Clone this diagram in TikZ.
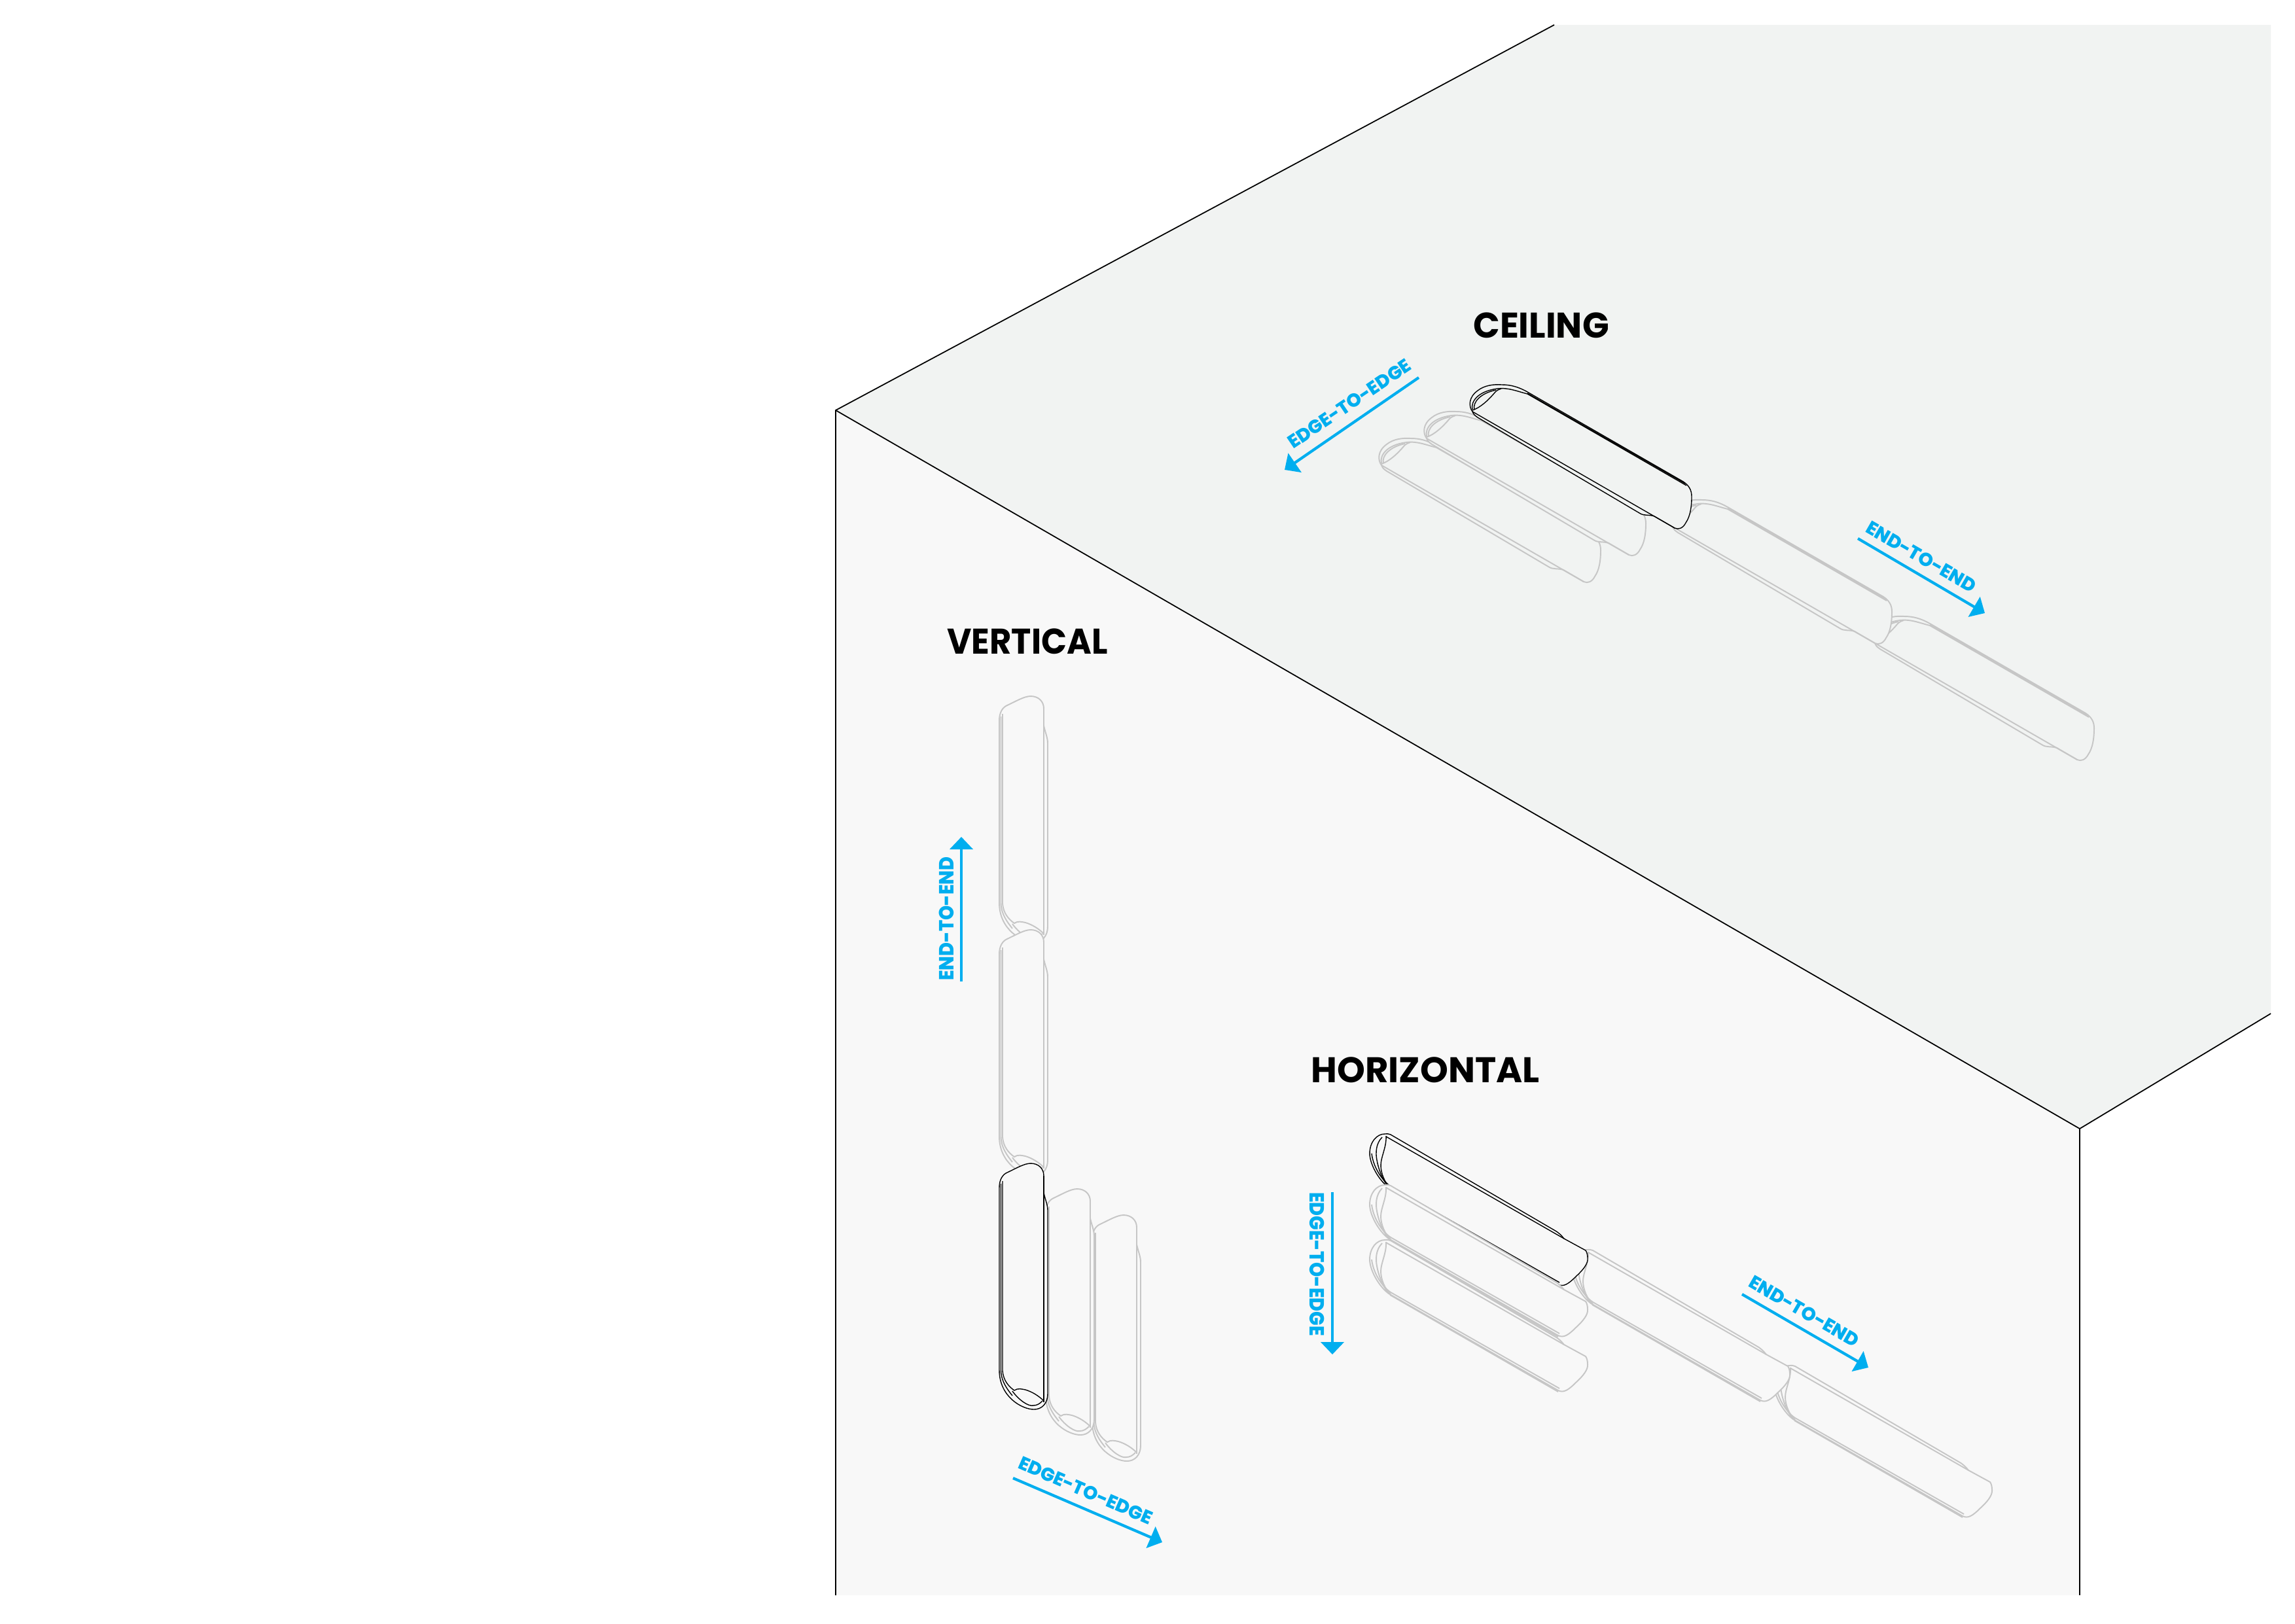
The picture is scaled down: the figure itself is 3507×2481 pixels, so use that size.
\documentclass[tikz,border=0pt]{standalone}
\usepackage{fontspec}
\setmainfont{Poppins}
\newfontfamily\tagfont{Poppins ExtraBold}
\usepackage{xcolor}
\usetikzlibrary{arrows.meta}
\definecolor{ink}{HTML}{000000}
\definecolor{cyanb}{HTML}{00AEEF}
\definecolor{ceilc}{HTML}{F1F3F2}
\definecolor{wallc}{HTML}{F8F8F8}
\definecolor{ghostc}{HTML}{C6C6C6}

\begin{document}
\begin{tikzpicture}[
  x=0.01cm,y=-0.01cm,
  title/.style={font=\fontsize{15.5}{18}\selectfont\bfseries,text=ink,inner sep=0pt},
  tag/.style={font=\tagfont\fontsize{8.1}{10}\selectfont,text=cyanb,inner sep=0pt},
  roomline/.style={draw=ink,line width=0.5pt},
  flow/.style={-{Triangle[length=0.19cm,width=0.35cm]},line width=0.042cm,cyanb},
  dark/.style={draw=ink,line width=0.4pt,line join=round},
  ghost/.style={draw=ghostc,line width=0.55pt,line join=round},
  % lamp lying along the ceiling
  pics/ceilunit/.style 2 args={code={
    \filldraw[#1,fill=#2] (0,0) .. controls (-6,-8) and (-6,-22) .. (8,-32)
      .. controls (18,-40) and (32,-42) .. (45,-41) .. controls (58,-41) and (70,-38) .. (84,-30)
      -- (322,107) .. controls (331,113) and (335,120) .. (335,130)
      .. controls (335,145) and (333,160) .. (326,170) .. controls (322,178) and (315,181) .. (309,178)
      -- (278,160) .. controls (270,157) and (262,160) .. (255,155) -- (8,9) .. controls (4,6) and (2,5) .. (0,0);
    \draw[#1] (0,0) -- (309,178);
    \draw[#1] (0,-3) .. controls (-3,-15) and (8,-31) .. (38,-35) .. controls (55,-37) and (68,-31) .. (84,-27) -- (327,113);
    \draw[#1] (3,-3) .. controls (0,-14) and (12,-28) .. (36,-33);
    \draw[#1] (0,-2) .. controls (12,-6) and (24,-17) .. (35,-30) .. controls (38,-33) and (41,-34) .. (44,-35);
    \draw[#1] (84,-28) -- (325,110);
  }},
  % lamp running along the wall
  pics/horzunit/.style 2 args={code={
    \filldraw[#1,fill=#2] (0,0) .. controls (-12,0) and (-23,12) .. (-23,30)
      .. controls (-23,45) and (-10,70) .. (6,82) -- (265,230) .. controls (273,234) and (280,230) .. (292,218)
      .. controls (303,208) and (311,198) .. (310,190) .. controls (310,185) and (309,181) .. (307,178)
      -- (274,160) .. controls (270,155) and (265,150) .. (259,147) -- (9,1) .. controls (6,0) and (3,-1) .. (0,0);
    \draw[#1] (2,4) -- (274,160);
    \draw[#1] (2,3) .. controls (3,20) and (-6,35) .. (-6,48) .. controls (-6,60) and (0,75) .. (9,83);
    \draw[#1] (-4,5) .. controls (-14,15) and (-14,30) .. (-12,40) .. controls (-10,52) and (-4,70) .. (5,80);
    \draw[#1] (-20,30) .. controls (-18,48) and (-6,70) .. (9,80) -- (267,227);
    \draw[#1] (8,84) -- (265,232);
  }},
  % lamp standing upright on the wall
  pics/vertunit/.style 2 args={code={
    \filldraw[#1,fill=#2] (0,0) .. controls (0,-12) and (5,-20) .. (12,-23)
      .. controls (25,-29) and (38,-37) .. (48,-37) .. controls (60,-37) and (68,-29) .. (68,-18)
      -- (68,8) .. controls (70,18) and (74,26) .. (74,35) -- (74,315)
      .. controls (74,330) and (65,339) .. (53,339) .. controls (35,339) and (0,320) .. (0,279) -- cycle;
    \draw[#1] (68,-18) -- (68,328);
    \draw[#1] (2.5,-6) -- (2.5,280) .. controls (3,296) and (12,308) .. (20,318);
    \draw[#1] (5,-10) -- (5,280) .. controls (6,294) and (14,304) .. (23,310)
      .. controls (28,306) and (35,308) .. (40,309) .. controls (50,312) and (60,318) .. (68,326);
    \draw[#1] (20,311) .. controls (30,325) and (45,335) .. (52,333) .. controls (58,333) and (62,330) .. (66,326);
  }},
]
\useasboundingbox (0,0) rectangle (3507,2481);

% room
\coordinate (roomL) at (1277,627);
\coordinate (roomT) at (2375,38);
\coordinate (roomR) at (3470,38);
\coordinate (roomE) at (3470,1549);
\coordinate (roomC) at (3178,1725);
\coordinate (roomB) at (3178,2438);
\coordinate (roomA) at (1277,2438);
\fill[ceilc] (roomL) -- (roomT) -- (roomR) -- (roomE) -- (roomC) -- cycle;
\fill[wallc] (roomL) -- (roomC) -- (roomB) -- (roomA) -- cycle;
\draw[roomline] (roomA) -- (roomL) -- (roomT);
\draw[roomline] (roomL) -- (roomC) -- (roomE);
\draw[roomline] (roomC) -- (roomB);

% ceiling lamps
\pic at (2865,983) {ceilunit={ghost}{ceilc}};
\pic at (2556,805) {ceilunit={ghost}{ceilc}};
\pic at (2111,711) {ceilunit={ghost}{ceilc}};
\pic at (2180,670) {ceilunit={ghost}{ceilc}};
\pic at (2250,629) {ceilunit={dark}{ceilc}};

% vertical lamps
\pic at (1669,1894) {vertunit={ghost}{wallc}};
\pic at (1598,1854) {vertunit={ghost}{wallc}};
\pic at (1527,1101) {vertunit={ghost}{wallc}};
\pic at (1527,1458) {vertunit={ghost}{wallc}};
\pic at (1527,1815) {vertunit={dark}{wallc}};

% horizontal lamps
\pic at (2734,2087) {horzunit={ghost}{wallc}};
\pic at (2425,1910) {horzunit={ghost}{wallc}};
\pic at (2116,1733) {horzunit={dark}{wallc}};
\pic at (2116,1811) {horzunit={ghost}{wallc}};
\pic at (2116,1895) {horzunit={ghost}{wallc}};

% titles
\node[title,xscale=0.98] (ceilT) at (2355,497) {CEILING};
\node[title,xscale=0.94] (vertT) at (1570,980) {VERTICAL};
\node[title] (horzT) at (2178,1635) {HORIZONTAL};

% arrows with their tags
\coordinate (ceilEa) at (2168,577);
\coordinate (ceilEb) at (1963,718);
\draw[flow] (ceilEa) -- (ceilEb);
\node[tag,rotate=34] (ceilEt) at (2062,617) {EDGE-TO-EDGE};

\coordinate (ceilNa) at (2839,823);
\coordinate (ceilNb) at (3033,937);
\draw[flow] (ceilNa) -- (ceilNb);
\node[tag,rotate=-30] (ceilNt) at (2936,851) {END-TO-END};

\coordinate (vertNa) at (1469,1500);
\coordinate (vertNb) at (1469,1279);
\draw[flow] (vertNa) -- (vertNb);
\node[tag,rotate=90,yscale=1.1] (vertNt) at (1446,1404) {END-TO-END};

\coordinate (vertEa) at (1548,2259);
\coordinate (vertEb) at (1776,2357);
\draw[flow] (vertEa) -- (vertEb);
\node[tag,rotate=-23.5] (vertEt) at (1659,2278) {EDGE-TO-EDGE};

\coordinate (horzEa) at (2036,1822);
\coordinate (horzEb) at (2036,2070);
\draw[flow] (horzEa) -- (horzEb);
\node[tag,rotate=-90,yscale=1.1] (horzEt) at (2013,1932) {EDGE-TO-EDGE};

\coordinate (horzNa) at (2662,1978);
\coordinate (horzNb) at (2855,2090);
\draw[flow] (horzNa) -- (horzNb);
\node[tag,rotate=-30] (horzNt) at (2757,2004) {END-TO-END};
\end{tikzpicture}
\end{document}
